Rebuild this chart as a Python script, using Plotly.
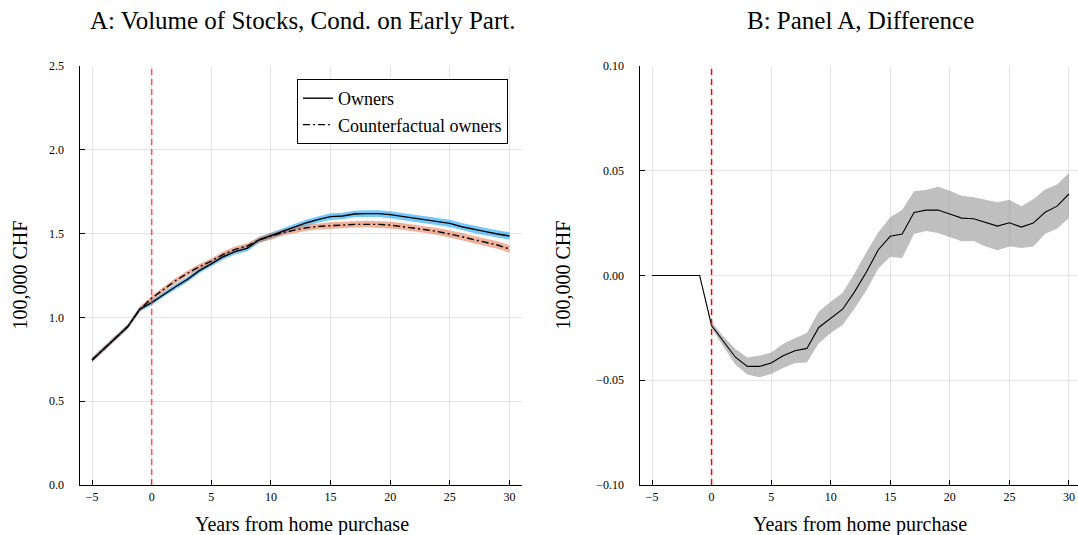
import plotly.graph_objects as go

years = list(range(-5, 31))

owners = [0.746, 0.815, 0.879, 0.945, 1.048, 1.088, 1.138, 1.183, 1.227, 1.279, 1.319, 1.362,
          1.392, 1.412, 1.462, 1.488, 1.512, 1.541, 1.565, 1.585, 1.601, 1.605, 1.617, 1.619,
          1.619, 1.613, 1.603, 1.595, 1.583, 1.571, 1.561, 1.541, 1.525, 1.512, 1.498, 1.486]
counterfactual = [0.746, 0.815, 0.879, 0.945, 1.048, 1.114, 1.167, 1.219, 1.263, 1.303, 1.336,
                  1.376, 1.406, 1.426, 1.462, 1.482, 1.506, 1.521, 1.535, 1.543, 1.549, 1.551,
                  1.555, 1.557, 1.555, 1.551, 1.543, 1.535, 1.523, 1.512, 1.498, 1.482, 1.464,
                  1.448, 1.432, 1.408]
owners_ci = [0.014, 0.014, 0.014, 0.014, 0.015, 0.015, 0.015, 0.016, 0.016, 0.016, 0.017, 0.017,
             0.017, 0.017, 0.018, 0.018, 0.018, 0.019, 0.019, 0.019, 0.020, 0.020, 0.020, 0.020,
             0.020, 0.021, 0.021, 0.021, 0.021, 0.021, 0.022, 0.022, 0.022, 0.022, 0.022, 0.022]
cf_ci = [0.014, 0.014, 0.014, 0.014, 0.015, 0.015, 0.015, 0.016, 0.016, 0.016, 0.016, 0.017,
         0.017, 0.017, 0.017, 0.018, 0.018, 0.018, 0.018, 0.018, 0.019, 0.019, 0.019, 0.019,
         0.019, 0.020, 0.020, 0.020, 0.020, 0.021, 0.021, 0.021, 0.021, 0.022, 0.022, 0.022]

diff = [0.0, 0.0, 0.0, 0.0, 0.0, -0.0239, -0.0315, -0.0390, -0.0434, -0.0434, -0.0418, -0.0383,
        -0.0359, -0.0348, -0.0248, -0.0204, -0.0161, -0.0078, 0.0017, 0.0123, 0.0187, 0.0198,
        0.0301, 0.0312, 0.0313, 0.0294, 0.0274, 0.0271, 0.0252, 0.0236, 0.0252, 0.0231, 0.0250,
        0.0302, 0.0331, 0.0389]
diff_hi = [0.0, 0.0, 0.0, 0.0, 0.0, -0.0223, -0.0291, -0.0351, -0.0391, -0.0383, -0.0367, -0.0327,
           -0.0299, -0.0275, -0.0172, -0.0125, -0.0082, 0.0009, 0.0112, 0.0207, 0.0278, 0.0313,
           0.0402, 0.0408, 0.0424, 0.0405, 0.0381, 0.0373, 0.0361, 0.0350, 0.0361, 0.0331, 0.0364,
           0.0411, 0.0434, 0.0489]
diff_lo = [0.0, 0.0, 0.0, 0.0, 0.0, -0.0252, -0.0339, -0.0426, -0.0473, -0.0486, -0.0470, -0.0441,
           -0.0418, -0.0415, -0.0323, -0.0275, -0.0236, -0.0157, -0.0070, 0.0033, 0.0089, 0.0084,
           0.0199, 0.0212, 0.0203, 0.0184, 0.0163, 0.0165, 0.0139, 0.0120, 0.0139, 0.0131, 0.0139,
           0.0199, 0.0223, 0.0275]

x_tickvals = [-5, 0, 5, 10, 15, 20, 25, 30]
x_ticktext = ["\u22125", "0", "5", "10", "15", "20", "25", "30"]
ya_tickvals = [0, 0.5, 1.0, 1.5, 2.0, 2.5]
ya_ticktext = ["0.0", "0.5", "1.0", "1.5", "2.0", "2.5"]
yb_tickvals = [-0.1, -0.05, 0, 0.05, 0.1]
yb_ticktext = ["\u22120.10", "\u22120.05", "0.00", "0.05", "0.10"]

FONT = "Liberation Serif"
# body margin is removed by the post script, so the figure fills the 1078x535 window
W, H = 1078, 535


def px(x):
    return x / W


def py(y):
    return 1 - y / H


fig = go.Figure()

# Panel A ribbons
fig.add_trace(go.Scatter(x=years, y=[v - c for v, c in zip(owners, owners_ci)], mode="lines",
                         line=dict(width=0), showlegend=False, hoverinfo="skip", xaxis="x", yaxis="y"))
fig.add_trace(go.Scatter(x=years, y=[v + c for v, c in zip(owners, owners_ci)], mode="lines",
                         line=dict(width=0), fill="tonexty", fillcolor="rgba(0,154,250,0.55)",
                         showlegend=False, hoverinfo="skip", xaxis="x", yaxis="y"))
fig.add_trace(go.Scatter(x=years, y=[v - c for v, c in zip(counterfactual, cf_ci)], mode="lines",
                         line=dict(width=0), showlegend=False, hoverinfo="skip", xaxis="x", yaxis="y"))
fig.add_trace(go.Scatter(x=years, y=[v + c for v, c in zip(counterfactual, cf_ci)], mode="lines",
                         line=dict(width=0), fill="tonexty", fillcolor="rgba(227,111,71,0.55)",
                         showlegend=False, hoverinfo="skip", xaxis="x", yaxis="y"))
fig.add_trace(go.Scatter(x=years, y=owners, mode="lines", name="Owners",
                         line=dict(color="black", width=1.4), xaxis="x", yaxis="y"))
fig.add_trace(go.Scatter(x=years, y=counterfactual, mode="lines", name="Counterfactual owners",
                         line=dict(color="black", width=1.4, dash="7px,3px,2px,3px"), xaxis="x", yaxis="y"))

# Panel B
fig.add_trace(go.Scatter(x=years, y=diff_lo, mode="lines", line=dict(width=0), showlegend=False,
                         hoverinfo="skip", xaxis="x2", yaxis="y2"))
fig.add_trace(go.Scatter(x=years, y=diff_hi, mode="lines", line=dict(width=0), fill="tonexty",
                         fillcolor="rgba(128,128,128,0.5)", showlegend=False, hoverinfo="skip",
                         xaxis="x2", yaxis="y2"))
fig.add_trace(go.Scatter(x=years, y=diff, mode="lines", line=dict(color="black", width=1.1),
                         showlegend=False, xaxis="x2", yaxis="y2"))

# vertical lines at 0
fig.add_shape(type="line", xref="x", yref="y domain", x0=0, x1=0, y0=0, y1=1,
              line=dict(color="rgba(255,60,60,0.85)", width=1.6, dash="6px,4px"))
fig.add_shape(type="line", xref="x2", yref="y2 domain", x0=0, x1=0, y0=0, y1=1,
              line=dict(color="rgb(255,0,0)", width=1.5, dash="6px,4px"))

ax_common = dict(showgrid=True, gridcolor="rgba(0,0,0,0.1)", gridwidth=1, zeroline=False,
                 showline=True, linecolor="black", linewidth=1, ticks="inside", ticklen=5,
                 tickcolor="black", tickfont=dict(family=FONT, size=12, color="black"),
                 mirror=False, automargin=False)

ydom = [py(485), py(66)]

fig.update_layout(
    width=W, height=H,
    margin=dict(l=0, r=0, t=0, b=0),
    paper_bgcolor="white", plot_bgcolor="white",
    font=dict(family=FONT, color="black"),
    xaxis=dict(domain=[px(79.5), px(522)], range=[-6.05, 31.05], tickvals=x_tickvals,
               ticktext=x_ticktext, anchor="y", ticklabelstandoff=1, **ax_common),
    yaxis=dict(domain=ydom, range=[0, 2.5], tickvals=ya_tickvals, ticktext=ya_ticktext,
               anchor="x", ticklabelstandoff=12, **ax_common),
    xaxis2=dict(domain=[px(639.5), 1.0], range=[-6.05, 30.76], tickvals=x_tickvals,
                ticktext=x_ticktext, anchor="y2", ticklabelstandoff=1,
                ticklabeloverflow="allow", **ax_common),
    yaxis2=dict(domain=ydom, range=[-0.1, 0.1], tickvals=yb_tickvals, ticktext=yb_ticktext,
                anchor="x2", ticklabelstandoff=12, **ax_common),
    legend=dict(x=px(508), y=py(79), xanchor="right", yanchor="top", bgcolor="white",
                bordercolor="black", borderwidth=1, font=dict(family=FONT, size=18),
                tracegroupgap=0, itemwidth=30, traceorder="normal"),
    showlegend=True,
    annotations=[
        dict(text="A: Volume of Stocks, Cond. on Early Part.", x=px(302), y=py(20),
             xref="paper", yref="paper", showarrow=False, font=dict(family=FONT, size=25),
             xanchor="center", yanchor="middle"),
        dict(text="B: Panel A, Difference", x=px(860), y=py(20), xref="paper", yref="paper",
             showarrow=False, font=dict(family=FONT, size=25), xanchor="center", yanchor="middle"),
        dict(text="Years from home purchase", x=px(302), y=py(524), xref="paper", yref="paper",
             showarrow=False, font=dict(family=FONT, size=20), xanchor="center", yanchor="middle"),
        dict(text="Years from home purchase", x=px(860), y=py(524), xref="paper", yref="paper",
             showarrow=False, font=dict(family=FONT, size=20), xanchor="center", yanchor="middle"),
        dict(text="100,000 CHF", x=px(19), y=py(275.5), xref="paper", yref="paper",
             showarrow=False, font=dict(family=FONT, size=20), textangle=-90,
             xanchor="center", yanchor="middle"),
        dict(text="100,000 CHF", x=px(562), y=py(275.5), xref="paper", yref="paper",
             showarrow=False, font=dict(family=FONT, size=20), textangle=-90,
             xanchor="center", yanchor="middle"),
    ],
)

fig.write_html("out.html", config={"displayModeBar": False},
               post_script="document.body.style.margin='0px';document.body.style.overflow='hidden';")
